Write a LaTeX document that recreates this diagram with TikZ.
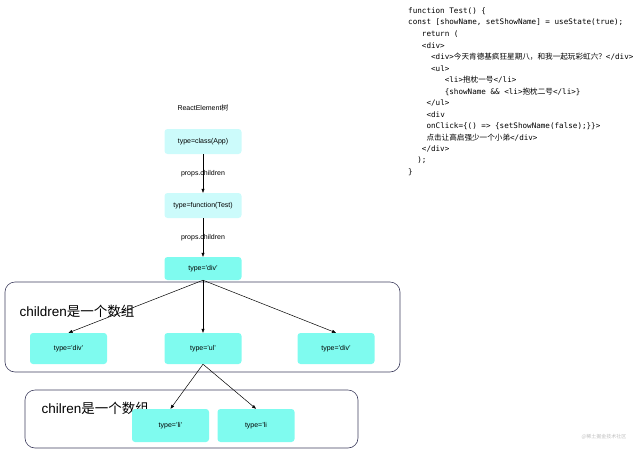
\documentclass[tikz,border=0pt]{standalone}
\usepackage{fontspec}
\setmainfont{Liberation Sans}
\setmonofont{DejaVu Sans Mono}
\newfontfamily\cjk{Noto Sans CJK SC}
\usetikzlibrary{arrows.meta}
\usetikzlibrary{positioning}
\definecolor{pale}{HTML}{CCFBFB}
\definecolor{aqua}{HTML}{7FFBEF}
\definecolor{framecol}{HTML}{3E3E5E}
\tikzset{
	elem/.style={fill=#1, rounded corners=3pt, minimum width=77pt, inner sep=0pt, font=\fontsize{7}{8}\selectfont},
	link/.style={-{Triangle[length=4pt,width=3pt]}, line width=0.5pt},
	frame/.style={draw=framecol, line width=0.6pt, rounded corners=10pt},
	code/.style={anchor=west, inner sep=0pt, font=\fontsize{7.6}{9}\ttfamily}
}
\newcommand{\tw}[1]{\hspace*{#1\dimexpr 4.58pt\relax}}

\begin{document}
\begin{tikzpicture}[x=1pt,y=-1pt]
	\useasboundingbox (0,0) rectangle (640,453);
	% the tree
	\node (title) at (203,108) {\fontsize{7}{8}\selectfont ReactElement{\cjk 树}};
	\node[elem=pale, minimum height=25pt] (app) at (203,141.5) {type=class(App)};
	\node[elem=pale, minimum height=25pt] (test) at (203,205.5) {type=function(Test)};
	\node[elem=aqua, minimum height=23pt] (div) at (203,268.5) {type='div'};
	\draw[link] (app) --node[midway, font=\fontsize{7}{8}\selectfont]{props.children} (test);
	\draw[link] (test) --node[midway, font=\fontsize{7}{8}\selectfont]{props.children} (div);
	% children of div
	\draw[frame] (5,282) rectangle (400,372);
	\node[anchor=west, font=\fontsize{13.5}{15}\selectfont] (arr1) at (16,311) {children{\cjk 是一个数组}};
	\node[elem=aqua, minimum height=31pt] (div1) at (68.5,348.5) {type='div'};
	\node[elem=aqua, minimum height=31pt] (ul) at (203,348.5) {type='ul'};
	\node[elem=aqua, minimum height=31pt] (div2) at (336,348.5) {type='div'};
	\draw[link] (div.south) -- (div1.north);
	\draw[link] (div.south) -- (ul.north);
	\draw[link] (div.south) -- (div2.north);
	% children of ul
	\draw[frame] (25,390) rectangle (358,448);
	\node[anchor=west, font=\fontsize{13.5}{15}\selectfont] (arr2) at (38,408) {chilren{\cjk 是一个数组}};
	\node[elem=aqua, minimum height=33pt] (li1) at (170.5,425.5) {type='li'};
	\node[elem=aqua, minimum height=33pt] (li2) at (256,425.5) {type='li};
	\draw[link] (ul.south) -- (li1.north);
	\draw[link] (ul.south) -- (li2.north);
	% source code
	\node[code] (c1) at (408,11) {function Test() \{};
	\node[code] (c2) at (408,22.5) {const [showName, setShowName] = useState(true);};
	\node[code] (c3) at (408,34) {\tw{3}return (};
	\node[code] (c4) at (408,45.5) {\tw{3}<div>};
	\node[code] (c5) at (408,57) {\tw{5}<div>{\cjk 今天肯德基疯狂星期八，和我一起玩彩虹六？}</div>};
	\node[code] (c6) at (408,68.5) {\tw{5}<ul>};
	\node[code] (c7) at (408,80) {\tw{8}<li>{\cjk 抱枕一号}</li>};
	\node[code] (c8) at (408,91.5) {\tw{8}\{showName \&\& <li>{\cjk 抱枕二号}</li>\}};
	\node[code] (c9) at (408,103) {\tw{4}</ul>};
	\node[code] (c10) at (408,114.5) {\tw{4}<div};
	\node[code] (c11) at (408,126) {\tw{4}onClick=\{() => \{setShowName(false);\}\}>};
	\node[code] (c12) at (408,137.5) {\tw{4}{\cjk 点击让高启强少一个小弟}</div>};
	\node[code] (c13) at (408,149) {\tw{3}</div>};
	\node[code] (c14) at (408,160.5) {\tw{2});};
	\node[code] (c15) at (408,172) {\}};
	% watermark
	\node[text=black!25, font=\fontsize{5}{6}\cjk] (mark) at (604,437) {@稀土掘金技术社区};
\end{tikzpicture}
\end{document}
